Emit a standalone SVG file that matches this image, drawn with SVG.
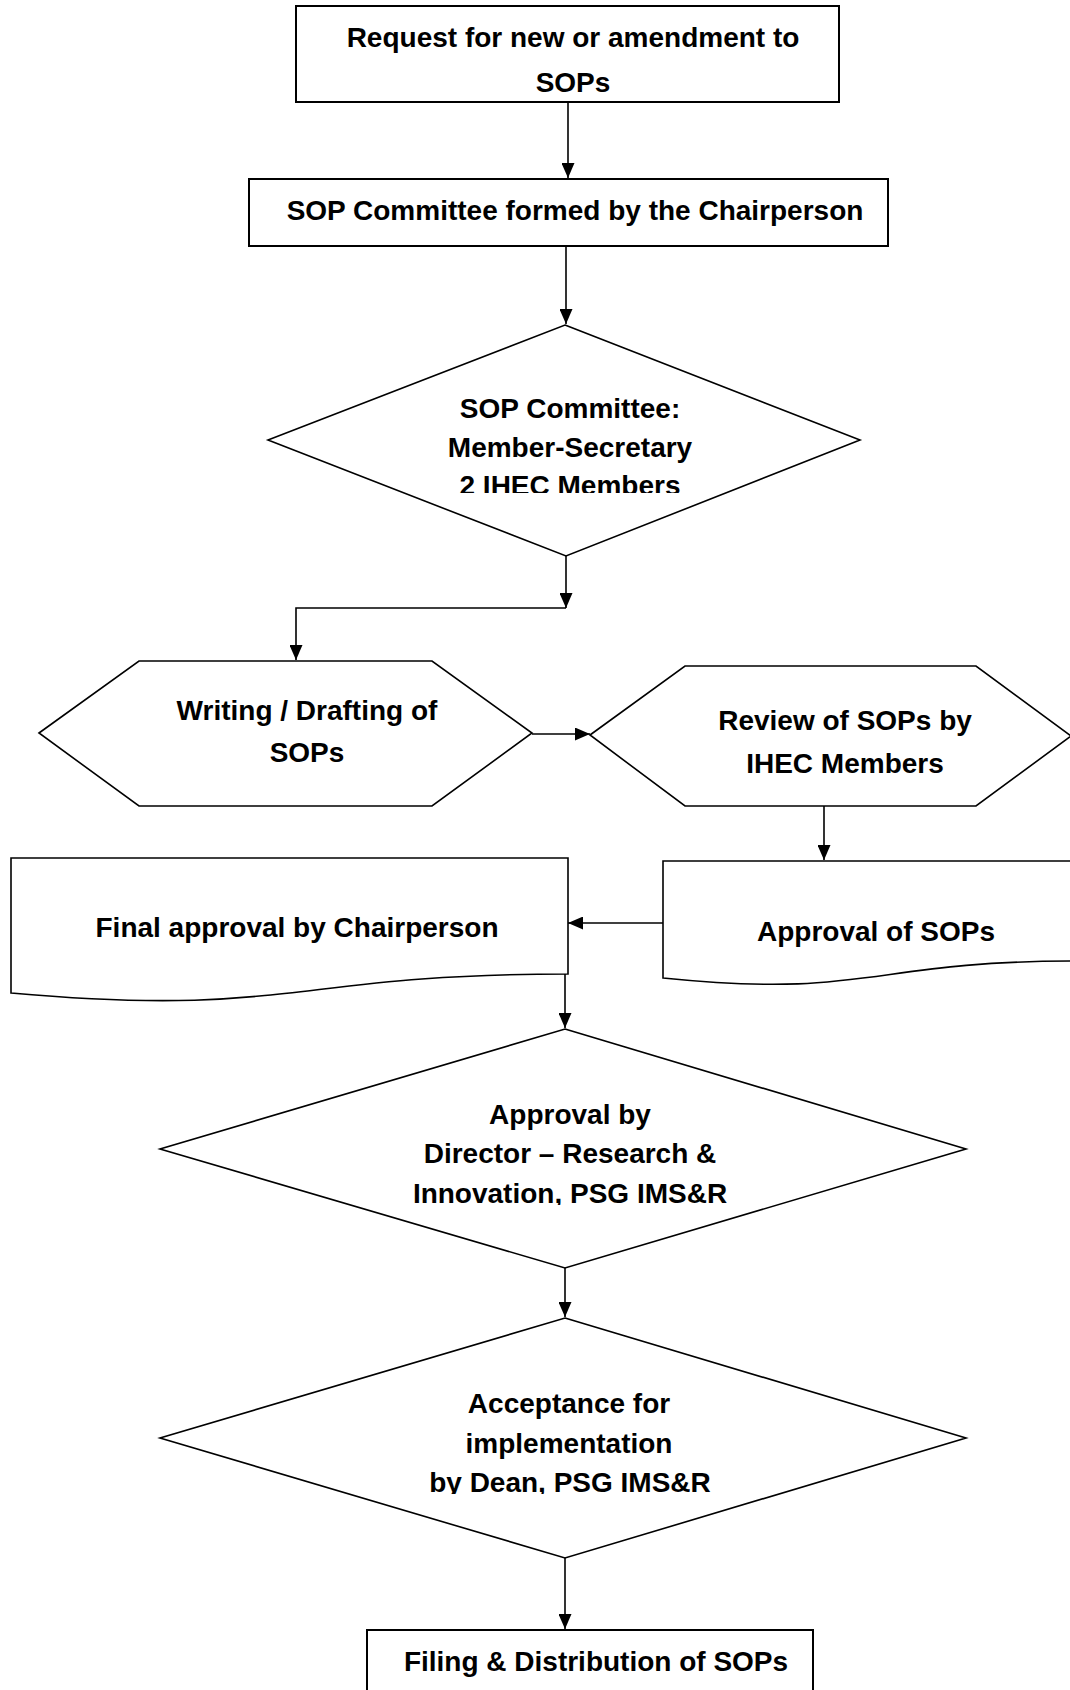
<svg xmlns="http://www.w3.org/2000/svg" width="1070" height="1690" viewBox="0 0 1070 1690">
<style>
.shape{fill:#fff;stroke:#000;stroke-width:1.6;stroke-linejoin:miter}
.box{fill:#fff;stroke:#000;stroke-width:2}
.conn{fill:none;stroke:#000;stroke-width:1.6}
.t{font-family:"Liberation Sans",Arial,sans-serif;font-weight:bold;font-size:28px;fill:#000;text-anchor:middle}
</style>
<defs>
<marker id="arr" markerUnits="userSpaceOnUse" markerWidth="15" markerHeight="13" refX="15" refY="6.5" orient="auto">
<path d="M0,0 L15,6.5 L0,13 z" fill="#000"/>
</marker>
<clipPath id="c1"><rect x="0" y="380" width="1070" height="113"/></clipPath>
<clipPath id="c2"><rect x="0" y="1090" width="1070" height="115"/></clipPath>
<clipPath id="c3"><rect x="0" y="1380" width="1070" height="114"/></clipPath>
</defs>
<rect width="1070" height="1690" fill="#fff"/>

<g id="n1">
<rect class="box" x="296" y="6" width="543" height="96"/>
<text class="t" x="573" y="47">Request for new or amendment to</text>
<text class="t" x="573" y="92">SOPs</text>
</g>

<g id="n2">
<rect class="box" x="249" y="179" width="639" height="67"/>
<text class="t" x="575" y="220">SOP Committee formed by the Chairperson</text>
</g>

<g id="n3">
<polygon class="shape" points="565,325 860,440 566,556 268,440"/>
<text class="t" x="570" y="418">SOP Committee:</text>
<text class="t" x="570" y="457">Member-Secretary</text>
<text class="t" x="570" y="495" clip-path="url(#c1)">2 IHEC Members</text>
</g>

<g id="n4">
<polygon class="shape" points="39,733 139,661 432,661 532,733 432,806 139,806"/>
<text class="t" x="307" y="720">Writing / Drafting of</text>
<text class="t" x="307" y="762">SOPs</text>
</g>

<g id="n5">
<polygon class="shape" points="590,735 685,666 976,666 1071,736 976,806 685,806"/>
<text class="t" x="845" y="730">Review of SOPs by</text>
<text class="t" x="845" y="773">IHEC Members</text>
</g>

<g id="n6">
<path class="shape" d="M11,858 H568 V974 C290,974 290,1018 11,993 Z"/>
<text class="t" x="297" y="937">Final approval by Chairperson</text>
</g>

<g id="n7">
<path class="shape" d="M663,861 H1075 V961 C869,961 869,999 663,978 Z"/>
<text class="t" x="876" y="941">Approval of SOPs</text>
</g>

<g id="n8">
<polygon class="shape" points="565,1029 966,1149 565,1268 160,1149"/>
<text class="t" x="570" y="1124">Approval by</text>
<text class="t" x="570" y="1163">Director – Research &amp;</text>
<text class="t" x="570" y="1203" clip-path="url(#c2)">Innovation, PSG IMS&amp;R</text>
</g>

<g id="n9">
<polygon class="shape" points="565,1318 966,1438 565,1558 160,1438"/>
<text class="t" x="569" y="1413">Acceptance for</text>
<text class="t" x="569" y="1453">implementation</text>
<text class="t" x="570" y="1492" clip-path="url(#c3)">by Dean, PSG IMS&amp;R</text>
</g>

<g id="n10">
<rect class="box" x="367" y="1630" width="446" height="80"/>
<text class="t" x="596" y="1671">Filing &amp; Distribution of SOPs</text>
</g>

<g id="connectors">
<path class="conn" d="M568,102 V178" marker-end="url(#arr)"/>
<path class="conn" d="M566,246 V324" marker-end="url(#arr)"/>
<path class="conn" d="M566,556 V608" marker-end="url(#arr)"/>
<path class="conn" d="M566,608 H296 V660" marker-end="url(#arr)"/>
<path class="conn" d="M532,734 H590" marker-end="url(#arr)"/>
<path class="conn" d="M824,806 V860" marker-end="url(#arr)"/>
<path class="conn" d="M663,923 H568" marker-end="url(#arr)"/>
<path class="conn" d="M565,974 V1028" marker-end="url(#arr)"/>
<path class="conn" d="M565,1268 V1317" marker-end="url(#arr)"/>
<path class="conn" d="M565,1558 V1629" marker-end="url(#arr)"/>
</g>
</svg>
